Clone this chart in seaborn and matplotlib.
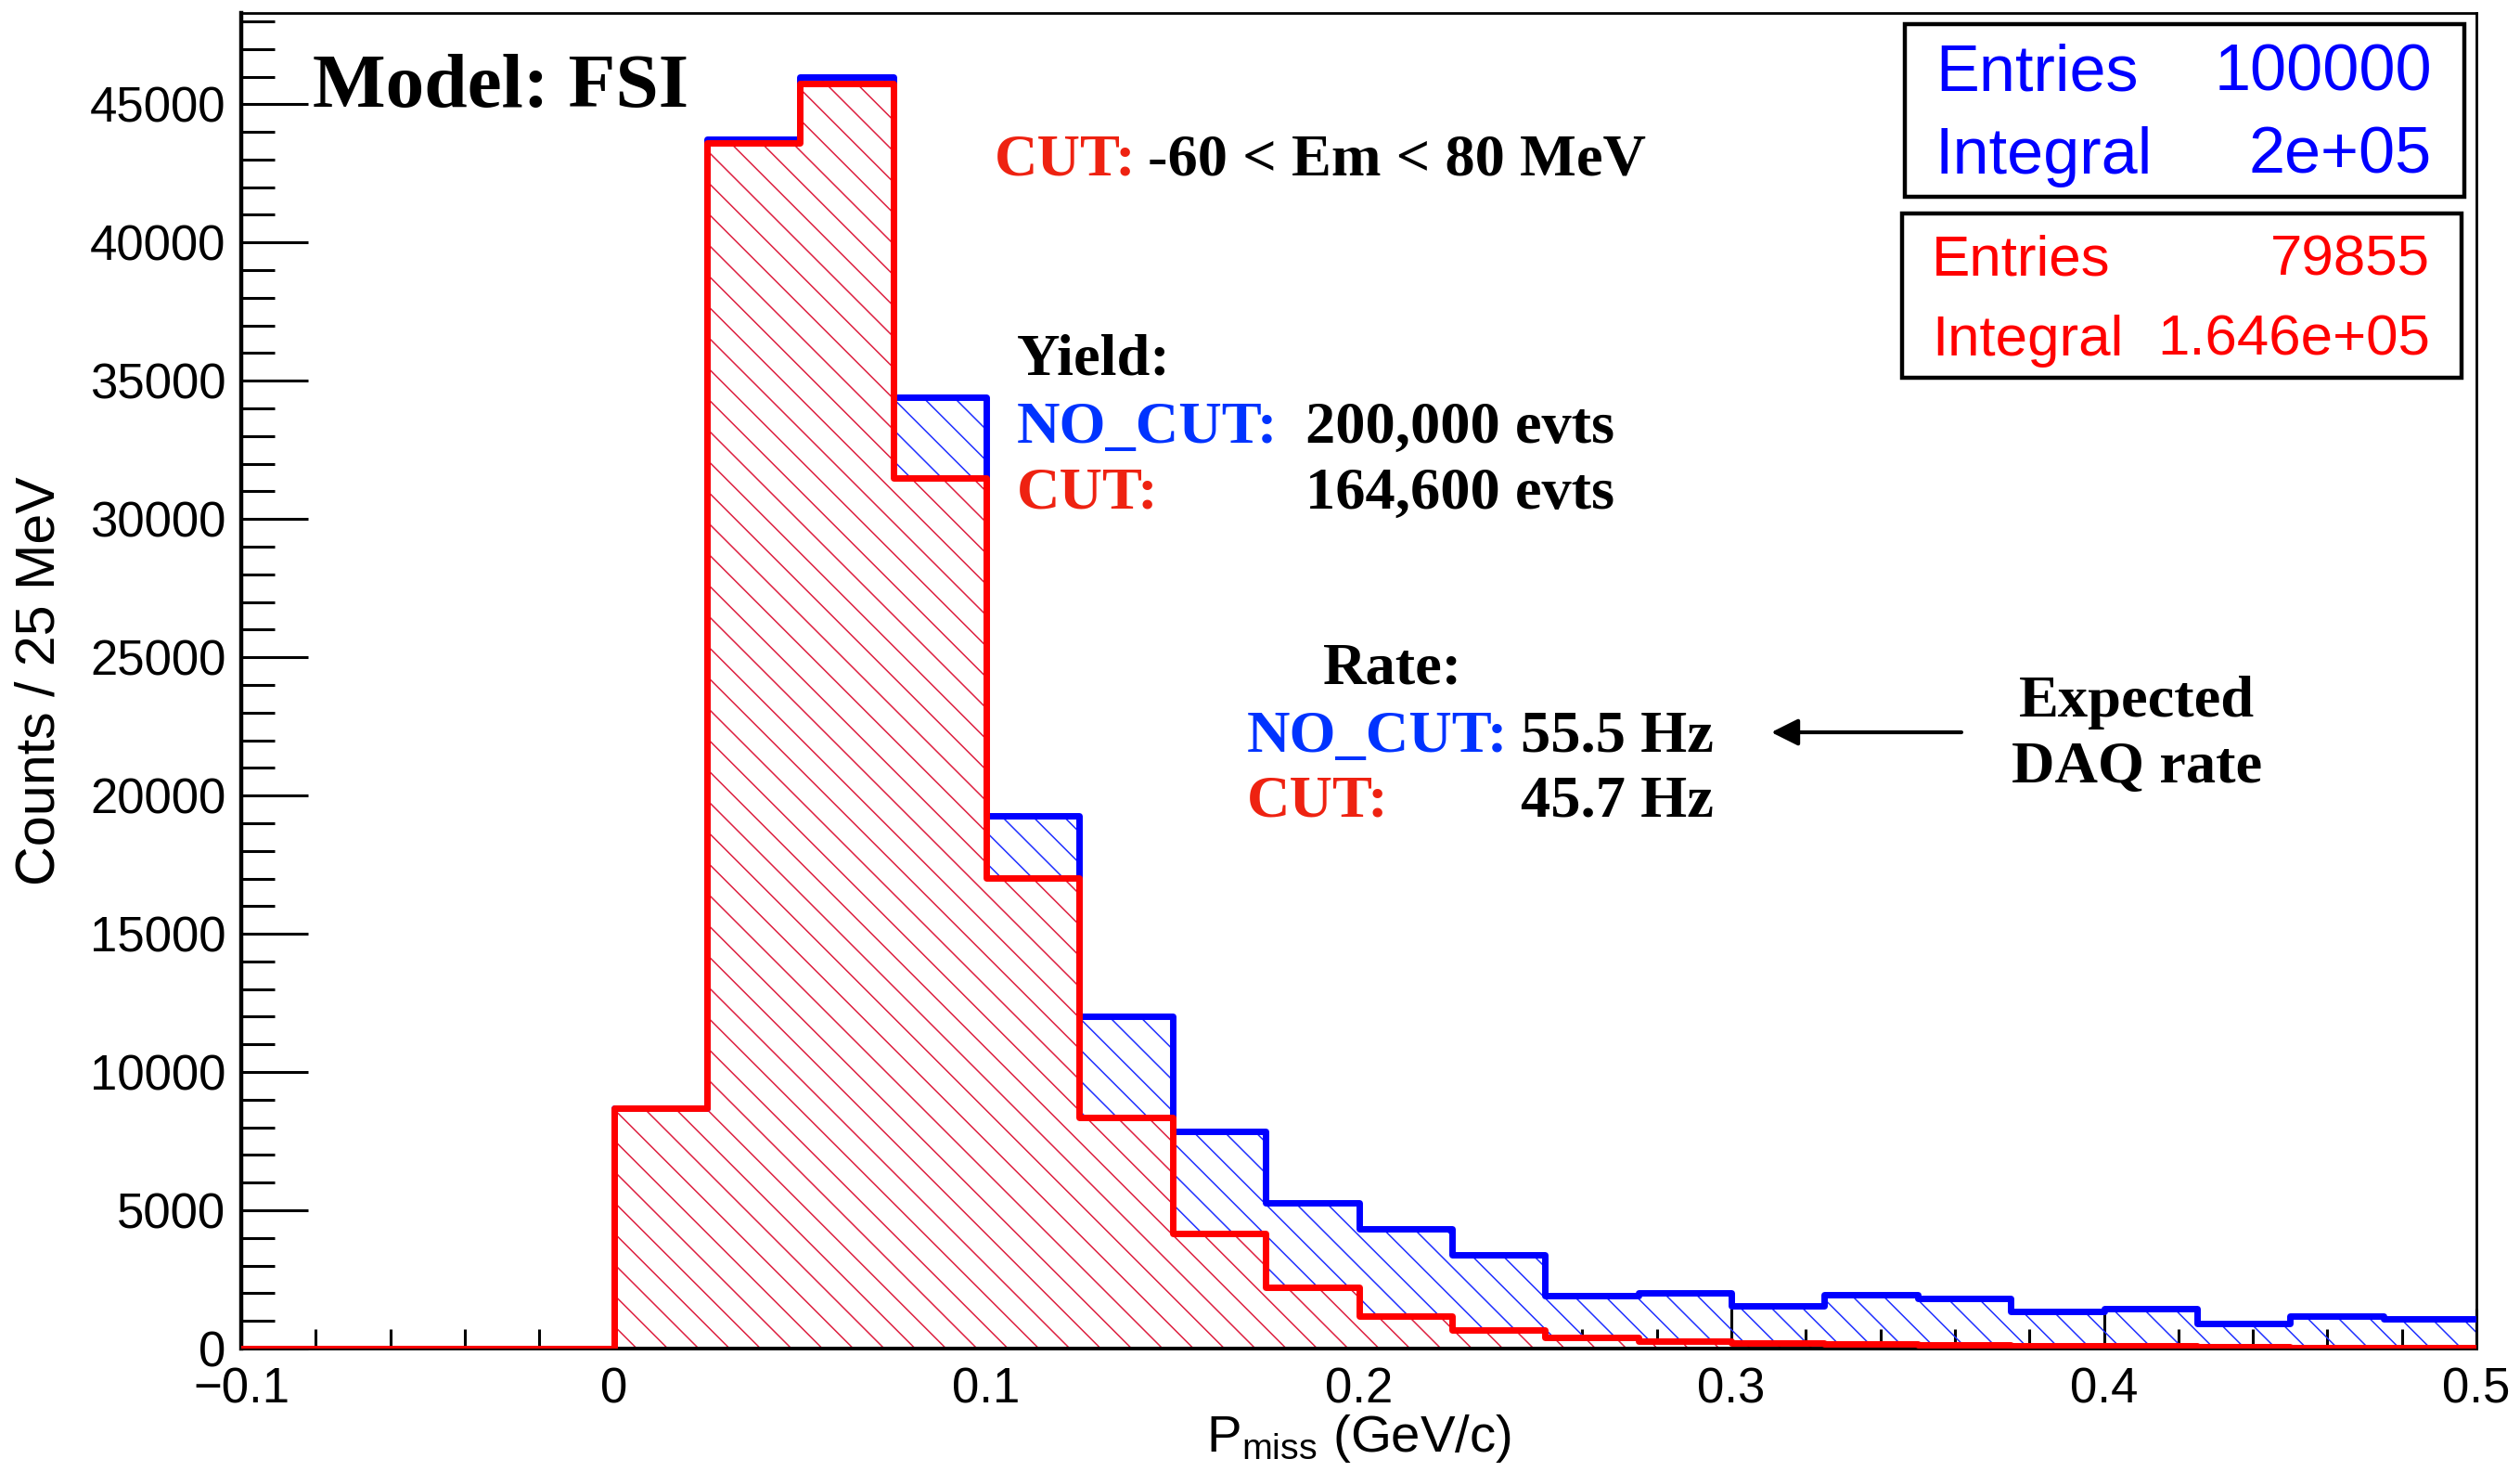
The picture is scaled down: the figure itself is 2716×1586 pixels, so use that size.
import numpy as np
import pandas as pd
import matplotlib
matplotlib.use("Agg")
import matplotlib.pyplot as plt
from matplotlib.patches import Rectangle
from matplotlib.ticker import MultipleLocator
import seaborn as sns

# ---------------- data ----------------
bin_low = -0.1
bin_high = 0.5
bin_width = 0.025
counts_nocut = [0, 0, 0, 0, 8700, 43750, 45970, 34400, 19250, 12000, 7850, 5270,
                4320, 3390, 1920, 2000, 1530, 1940, 1810, 1340, 1430, 890, 1190, 1070]
counts_cut = [0, 0, 0, 0, 8700, 43600, 45740, 31500, 17010, 8370, 4170, 2210,
              1160, 680, 400, 280, 200, 180, 150, 110, 100, 75, 50, 40]
y_max = 48300
yticks = [0, 5000, 10000, 15000, 20000, 25000, 30000, 35000, 40000, 45000]
xticks = [-0.1, 0.0, 0.1, 0.2, 0.3, 0.4, 0.5]
xtick_labels = ["\u22120.1", "0", "0.1", "0.2", "0.3", "0.4", "0.5"]
stats_nocut = [("Entries", "100000"), ("Integral", "2e+05")]
stats_cut = [("Entries", "79855"), ("Integral", "1.646e+05")]

n_bins = len(counts_nocut)
bin_edges = [round(bin_low + bin_width * i, 4) for i in range(n_bins + 1)]
centers = [(bin_edges[i] + bin_edges[i + 1]) / 2 for i in range(n_bins)]
df = pd.DataFrame({"pmiss": centers, "nocut": counts_nocut, "cut": counts_cut})

# ---------------- style ----------------
sns.set_theme(style="white")
plt.rcParams["font.family"] = ["Liberation Sans", "DejaVu Sans"]
plt.rcParams["mathtext.fontset"] = "custom"
plt.rcParams["mathtext.rm"] = "Liberation Sans"
plt.rcParams["mathtext.it"] = "Liberation Sans:italic"
plt.rcParams["hatch.linewidth"] = 0.55

BLUE = "#0000ff"
RED = "#ff0000"
TXT_BLUE = "#0033ff"
TXT_RED = "#ee2211"
HATCH_RED = "#dd2040"
HATCH_BLUE = "#2030ff"

W, H = 2716, 1586
DPI = 200
fig = plt.figure(figsize=(W / DPI, H / DPI), dpi=DPI)
fig.patch.set_facecolor("white")

AX_L, AX_R, AX_T, AX_B = 260, 2669, 14, 1453
ax = fig.add_axes([AX_L / W, 1 - AX_B / H, (AX_R - AX_L) / W, (AX_B - AX_T) / H])
ax.set_facecolor("white")


def fx(px):
    return (px - AX_L) / (AX_R - AX_L)


def fy(py):
    return (AX_B - py) / (AX_B - AX_T)


# hatched fills
sns.histplot(data=df, x="pmiss", weights="nocut", bins=bin_edges, element="step",
             fill=True, color=HATCH_BLUE, facecolor="none", edgecolor=HATCH_BLUE, linewidth=0,
             hatch="\\\\", ax=ax, zorder=1)
sns.histplot(data=df, x="pmiss", weights="cut", bins=bin_edges, element="step",
             fill=True, color=HATCH_RED, facecolor="white", edgecolor=HATCH_RED, linewidth=0,
             hatch="\\\\", ax=ax, zorder=1.1)
# outlines
sns.histplot(data=df, x="pmiss", weights="nocut", bins=bin_edges, element="step",
             fill=False, color=BLUE, linewidth=2.5, ax=ax, zorder=3)
sns.histplot(data=df, x="pmiss", weights="cut", bins=bin_edges, element="step",
             fill=False, color=RED, linewidth=2.5, ax=ax, zorder=3.1)

ax.set_xlim(bin_low, bin_high)
ax.set_ylim(0, y_max)

# ticks
ax.set_yticks(yticks)
ax.set_yticklabels([str(v) for v in yticks])
ax.yaxis.set_minor_locator(MultipleLocator(1000))
ax.set_xticks(xticks)
ax.set_xticklabels(xtick_labels)
ax.xaxis.set_minor_locator(MultipleLocator(0.02))
ax.tick_params(axis="y", which="major", direction="in", length=26, width=1.1,
               labelsize=19, pad=6, left=True, right=False, color="black", labelcolor="black")
ax.tick_params(axis="y", which="minor", direction="in", length=13, width=1.1,
               left=True, right=False, color="black")
ax.tick_params(axis="x", which="major", direction="in", length=15.5, width=1.1,
               labelsize=19, pad=7, bottom=True, top=False, color="black", labelcolor="black")
ax.tick_params(axis="x", which="minor", direction="in", length=7.7, width=1.1,
               bottom=True, top=False, color="black")

for side, lw in [("left", 1.6), ("bottom", 1.4), ("top", 1.0), ("right", 1.0)]:
    ax.spines[side].set_color("black")
    ax.spines[side].set_linewidth(lw)
    ax.spines[side].set_zorder(2.5)

ax.grid(False)

# axis labels
ax.set_ylabel("Counts / 25 MeV", fontsize=21.3, color="black", va="center")
ax.yaxis.set_label_coords(fx(43), 0.5)
ax.set_xlabel(r"P$_{\mathregular{miss}}$ (GeV/c)", fontsize=20.3, color="black", va="baseline")
ax.xaxis.set_label_coords(0.5, fy(1564))

# annotations (Times bold)
serif = ["Liberation Serif", "DejaVu Serif"]


def t(px, py, s, color="black", size=23.2, ha="left"):
    ax.text(fx(px), fy(py), s, transform=ax.transAxes, family=serif, fontweight="bold",
            fontsize=size, color=color, ha=ha, va="baseline", zorder=6)


t(337, 115, "Model: FSI", size=30)
t(1072, 189, "CUT:", color=TXT_RED)
t(1237, 189, "-60 < Em < 80 MeV")
t(1096, 403, "Yield:")
t(1096, 477, "NO_CUT:", color=TXT_BLUE)
t(1407, 477, "200,000 evts")
t(1096, 548, "CUT:", color=TXT_RED)
t(1407, 548, "164,600 evts")
t(1426, 737, "Rate:")
t(1344, 810, "NO_CUT:", color=TXT_BLUE)
t(1639, 810, "55.5 Hz")
t(1344, 880, "CUT:", color=TXT_RED)
t(1639, 880, "45.7 Hz")
t(2303, 772, "Expected", ha="center")
t(2303, 843, "DAQ rate", ha="center")

ax.annotate("", xy=(fx(1909), fy(789)), xytext=(fx(2114), fy(789)),
            xycoords="axes fraction", textcoords="axes fraction",
            arrowprops=dict(arrowstyle="-|>", lw=1.5, color="black",
                            mutation_scale=22, shrinkA=0, shrinkB=0), zorder=6)

# stats boxes
def stats_box(x0, y0, x1, y1, rows, color, lx, rx, baselines, size):
    ax.add_patch(Rectangle((fx(x0), fy(y1)), fx(x1) - fx(x0), fy(y0) - fy(y1),
                           transform=ax.transAxes, facecolor="white", edgecolor="black",
                           linewidth=1.6, zorder=5, clip_on=False))
    for (name, val), by in zip(rows, baselines):
        ax.text(fx(lx), fy(by), name, transform=ax.transAxes, fontsize=size, color=color,
                ha="left", va="baseline", zorder=6)
        ax.text(fx(rx), fy(by), val, transform=ax.transAxes, fontsize=size, color=color,
                ha="right", va="baseline", zorder=6)


stats_box(2053, 26, 2656, 212, stats_nocut, BLUE, 2086, 2621, [98, 187], 25.3)
stats_box(2050, 230, 2653, 407, stats_cut, RED, 2082, 2619, [297, 383], 22.3)

fig.savefig("out.png", dpi=DPI, facecolor="white")
